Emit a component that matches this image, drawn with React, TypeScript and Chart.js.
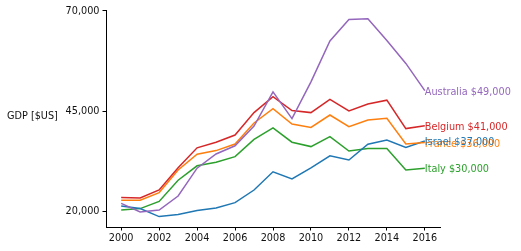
import React, { useEffect, useRef } from "react";
import { Chart, registerables } from "chart.js";

Chart.register(...registerables);

const years = [2000, 2001, 2002, 2003, 2004, 2005, 2006, 2007, 2008, 2009, 2010, 2011, 2012, 2013, 2014, 2015, 2016];

const australia = [21900, 19750, 20250, 23750, 30700, 34250, 36300, 41250, 49800, 43100, 52300, 62500, 67900, 68050, 62600, 56900, 50100];
const belgium = [23400, 23250, 25250, 30800, 35800, 37200, 39000, 44600, 48600, 45100, 44600, 47900, 45000, 46750, 47700, 40600, 41300];
const france = [22700, 22700, 24600, 30250, 34200, 35100, 36750, 42000, 45600, 41750, 40900, 44000, 41100, 42750, 43200, 36750, 37100];
const israel = [21250, 20600, 18600, 19100, 20100, 20750, 22100, 25250, 29800, 28000, 30800, 33800, 32750, 36700, 37750, 35900, 37500];
const italy = [20250, 20600, 22400, 27700, 31300, 32200, 33600, 37900, 40800, 37200, 36100, 38600, 35000, 35600, 35600, 30250, 30700];

const countries = ["Australia", "Belgium", "France", "Israel", "Italy"];
const endLabels = ["Australia $49,000", "Belgium $41,000", "France $36,000", "Israel $37,000", "Italy $30,000"];
const colors = ["#9467bd", "#d62728", "#ff7f0e", "#1f77b4", "#2ca02c"];
const seriesValues = [australia, belgium, france, israel, italy];

const yTicks = [20000, 45000, 70000];
const xTicks = [2000, 2002, 2004, 2006, 2008, 2010, 2012, 2014, 2016];
const yTitle = "GDP [$US]";

const FONT = "DejaVu Sans";
const FS = 9.7;

export default function App() {
  const ref = useRef<HTMLCanvasElement | null>(null);
  useEffect(() => {
    if (!ref.current) return;
    const endLabelPlugin = {
      id: "endLabels",
      afterDatasetsDraw(chart: any) {
        const ctx = chart.ctx;
        const xs = chart.scales.x;
        const ys = chart.scales.y;
        ctx.save();
        ctx.font = `${FS}px "${FONT}"`;
        ctx.textAlign = "left";
        ctx.textBaseline = "middle";
        chart.data.datasets.forEach((ds: any, i: number) => {
          const last = ds.data[ds.data.length - 1];
          ctx.fillStyle = colors[i];
          ctx.fillText(endLabels[i], xs.getPixelForValue(last.x), ys.getPixelForValue(last.y) + 1.5);
        });
        ctx.fillStyle = "#111";
        ctx.textAlign = "left";
        ctx.fillText(yTitle, 7, (chart.chartArea.top + chart.chartArea.bottom) / 2 - 2);
        ctx.restore();
      },
    };
    const chart = new Chart(ref.current, {
      type: "line",
      data: {
        datasets: countries.map((c, i) => ({
          label: c,
          data: years.map((y, j) => ({ x: y, y: seriesValues[i][j] })),
          borderColor: colors[i],
          backgroundColor: colors[i],
          borderWidth: 1.5,
          pointRadius: 0,
          tension: 0,
          fill: false,
        })),
      },
      options: {
        animation: false,
        responsive: false,
        layout: { padding: { left: 0, top: 10, right: 81, bottom: 0 } },
        plugins: { legend: { display: false }, tooltip: { enabled: false } },
        scales: {
          x: {
            type: "linear",
            min: 1999.2,
            max: 2016.8,
            afterBuildTicks: (s: any) => {
              s.ticks = xTicks.map((v) => ({ value: v }));
            },
            afterFit: (s: any) => {
              s.height = 24;
            },
            grid: { drawOnChartArea: false, drawTicks: true, tickLength: 3.5, color: "#000" },
            border: { display: true, color: "#000", width: 1 },
            ticks: {
              color: "#111",
              font: { family: FONT, size: FS },
              padding: 2,
              maxRotation: 0,
              autoSkip: false,
              callback: (v: any) => String(v),
            },
          },
          y: {
            type: "linear",
            min: 16000,
            max: 70250,
            afterBuildTicks: (s: any) => {
              s.ticks = yTicks.map((v) => ({ value: v }));
            },
            afterFit: (s: any) => {
              s.width = 106;
            },
            grid: { drawOnChartArea: false, drawTicks: true, tickLength: 3.5, color: "#000" },
            border: { display: true, color: "#000", width: 1 },
            ticks: {
              color: "#111",
              font: { family: FONT, size: FS },
              padding: 3,
              autoSkip: false,
              callback: (v: any) => Number(v).toLocaleString("en-US"),
            },
          },
        },
      },
      plugins: [endLabelPlugin],
    });
    return () => chart.destroy();
  }, []);
  return (
    <div style={{ position: "fixed", left: 0, top: 0, width: 521, height: 251, background: "#fff" }}>
      <canvas ref={ref} width={521} height={251} style={{ width: 521, height: 251 }} />
    </div>
  );
}
